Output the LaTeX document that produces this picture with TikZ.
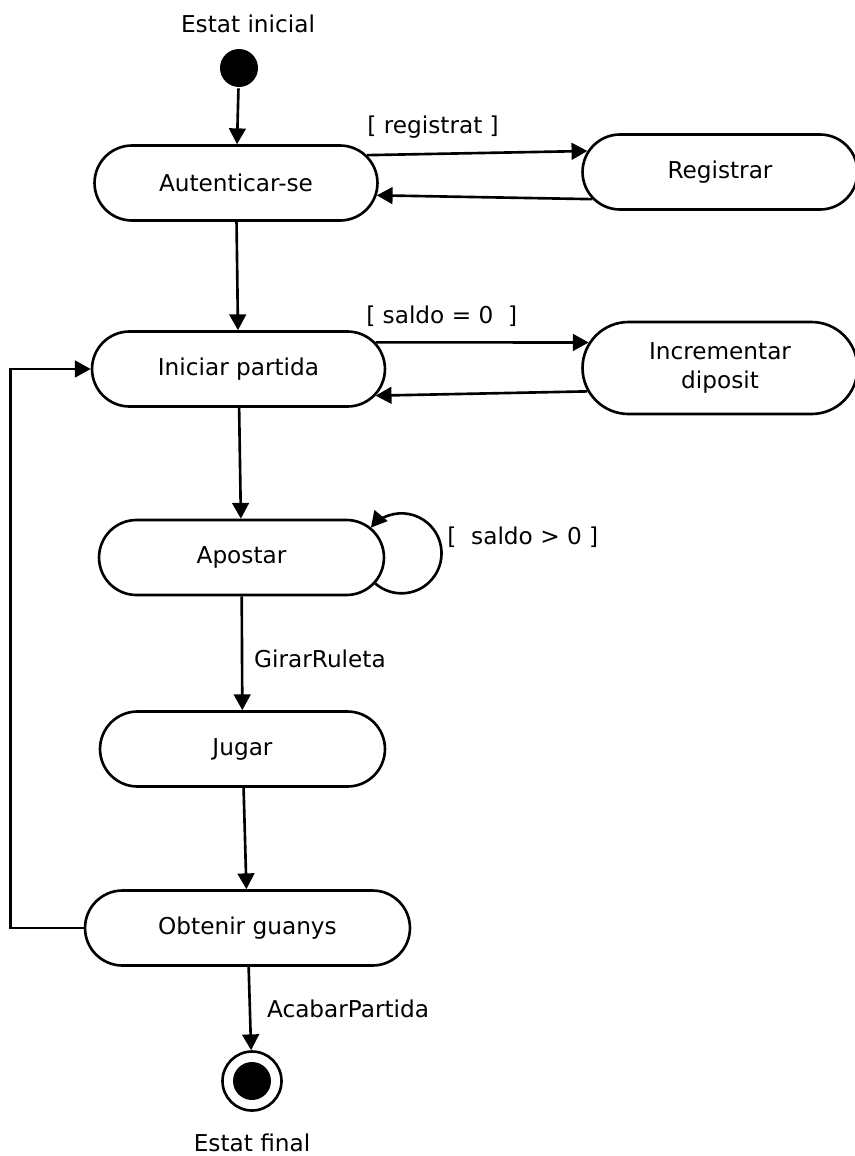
\documentclass[tikz,border=0pt]{standalone}
\usepackage{fontspec}
\setmainfont{DejaVu Sans}
\usetikzlibrary{arrows.meta,shapes.misc,positioning}

\begin{document}
\begin{tikzpicture}[x=0.02cm,y=0.02cm,line width=1.5pt,
  font=\fontsize{13.2}{17}\selectfont,
  state/.style={rounded rectangle,draw,minimum height=1.5cm,inner sep=0pt},
  tr/.style={-{Triangle[length=9pt,width=9.5pt]}},
  initial/.style={circle,fill,minimum size=0.76cm,inner sep=0pt},
  final/.style={circle,draw,minimum size=1.18cm,inner sep=0pt,
    path picture={\fill (path picture bounding box.center) circle (0.38cm);}}]
\useasboundingbox (0,0) rectangle (855,-1156);
\node[initial] (init) at (239,-68) {};
\node[above=0.15cm of init,xshift=0.18cm] (initlbl) {Estat inicial};
\node[state,minimum width=5.66cm] (auth) at (236,-183) {Autenticar-se};
\node[state,minimum width=5.5cm] (reg) at (720,-172) {Registrar};
\node[state,minimum width=5.86cm] (start) at (238.5,-369) {Iniciar partida};
\node[state,minimum width=5.5cm,minimum height=1.84cm,align=center] (inc) at (720,-368) {Incrementar\\diposit};
\node[state,minimum width=5.7cm] (bet) at (241.5,-557.5) {Apostar};
\node[state,minimum width=5.7cm] (play) at (242.5,-749) {Jugar};
\node[state,minimum width=6.5cm] (win) at (247.5,-928) {Obtenir guanys};
\node[final] (fin) at (252,-1081) {};
\node[below=0.3cm of fin] (finlbl) {Estat final};
\draw[tr] (init) -- (auth);
\draw[tr] (auth.12) -- node[pos=0.3,above=5pt] (lblreg) {[ registrat ]} (reg.171);
\draw[tr] (reg.192) -- (auth.-5);
\draw[tr] (auth) -- (start);
\draw[tr] (start.11) -- node[pos=0.31,above=5pt] (lblzero) {[ saldo = 0\ \ ]} (inc.169);
\draw[tr] (inc.190) -- (start.-11);
\draw[tr] (start) -- (bet);
\draw[tr] (bet.-11) arc[start angle=-131,end angle=140,radius=0.8cm];
\node[anchor=west] (lblpos) at ([xshift=1.1cm,yshift=0.4cm]bet.east) {[\ \ saldo > 0 ]};
\draw[tr] (bet) -- node[pos=0.55,right=0.1cm] (lblspin) {GirarRuleta} (play);
\draw[tr] (play) -- (win);
\draw[tr] (win) -- node[pos=0.5,right=0.2cm] (lblend) {AcabarPartida} (fin);
\draw[tr] (win.west) -- ++(-73,0) |- (start.west);
\end{tikzpicture}
\end{document}
